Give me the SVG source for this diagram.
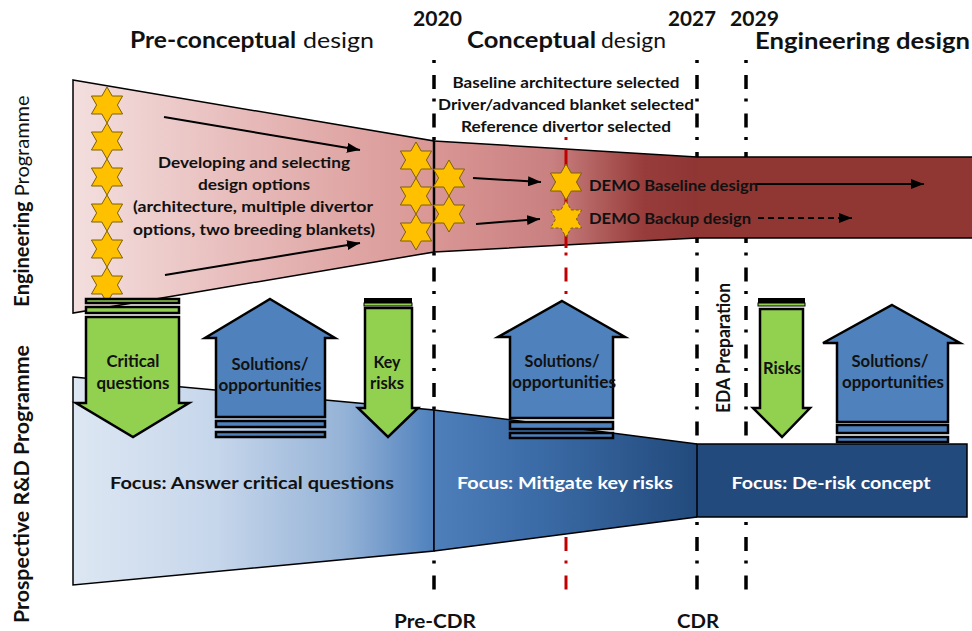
<svg xmlns="http://www.w3.org/2000/svg" width="972" height="631" viewBox="0 0 972 631">
<defs>
<style>
text{font-family:Lato,"Liberation Sans",sans-serif;fill:#111;}
.b{font-weight:700;}
.n{font-weight:400;}
.w{fill:#ffffff;}
.dd{fill:none;stroke:#000;stroke-width:3.5;stroke-dasharray:3 12 14 9.5;}
.ddr{fill:none;stroke:#c00000;stroke-width:3;stroke-dasharray:3 12 14 9.5;}
.edge{fill:none;stroke:#000;stroke-width:1.5;}
.star{fill:#ffc000;stroke:#7f6000;stroke-width:1;}
.green{fill:#92d050;stroke:#000;stroke-width:2.5;stroke-linejoin:miter;}
.blue{fill:#4f81bd;stroke:#000;stroke-width:2.5;stroke-linejoin:miter;}
.con{fill:none;stroke:#000;stroke-width:2;}
</style>
<linearGradient id="redL" gradientUnits="userSpaceOnUse" x1="73" y1="0" x2="434" y2="0">
<stop offset="0" stop-color="#f3dfde"/><stop offset="0.5" stop-color="#e6b9b8"/><stop offset="1" stop-color="#d99694"/>
</linearGradient>
<linearGradient id="redM" gradientUnits="userSpaceOnUse" x1="434" y1="0" x2="697" y2="0">
<stop offset="0" stop-color="#d99694"/><stop offset="0.45" stop-color="#c98080"/><stop offset="0.8" stop-color="#973c3a"/><stop offset="1" stop-color="#8f3634"/>
</linearGradient>
<linearGradient id="blueL" gradientUnits="userSpaceOnUse" x1="73" y1="0" x2="434" y2="0">
<stop offset="0" stop-color="#dde7f3"/><stop offset="0.4" stop-color="#c6d6eb"/><stop offset="0.75" stop-color="#95b3d7"/><stop offset="1" stop-color="#4f81bd"/>
</linearGradient>
<linearGradient id="blueM" gradientUnits="userSpaceOnUse" x1="434" y1="0" x2="697" y2="0">
<stop offset="0" stop-color="#4f7fbb"/><stop offset="0.4" stop-color="#3b6ba6"/><stop offset="1" stop-color="#224a7c"/>
</linearGradient>
<path id="hex" d="M0,-18 L5.196,-9 L15.588,-9 L10.392,0 L15.588,9 L5.196,9 L0,18 L-5.196,9 L-15.588,9 L-10.392,0 L-15.588,-9 L-5.196,-9 Z"/>
<marker id="ah" markerUnits="userSpaceOnUse" markerWidth="13" markerHeight="10" refX="13" refY="5" orient="auto">
<path d="M0,0 L13,5 L0,10 Z" fill="#000"/>
</marker>
</defs>

<rect x="0" y="0" width="972" height="631" fill="#ffffff"/>

<g id="timeline-lines">
<line class="dd" x1="434" y1="60" x2="434" y2="592"/>
<line class="dd" x1="697" y1="60" x2="697" y2="592"/>
<line class="dd" x1="746" y1="60" x2="746" y2="592"/>
<line class="ddr" x1="566" y1="137" x2="566" y2="592"/>
</g>

<g id="engineering-band">
<polygon points="73,80 434,141 434,252 73,313" fill="url(#redL)" stroke="#000" stroke-width="1.5"/>
<polygon points="434,141 697,157 697,238 434,252" fill="url(#redM)"/>
<rect x="697" y="157" width="275" height="81" fill="#903734"/>
<path class="edge" d="M434,141 L697,157 L972,157 M434,252 L697,238 L972,238"/>
<line x1="434" y1="141" x2="434" y2="252" stroke="#000" stroke-width="2.5"/>
<line x1="566" y1="150" x2="566" y2="248" stroke="#c00000" stroke-width="3"/>
</g>

<g id="rd-band">
<polygon points="73,377 434,410 434,551 73,585" fill="url(#blueL)" stroke="#000" stroke-width="1.5"/>
<polygon points="434,410 697,444 697,517 434,551" fill="url(#blueM)"/>
<path class="edge" d="M434,410 L697,444 M434,551 L697,517"/>
<rect x="697" y="444" width="270" height="73" fill="#234a7c" stroke="#000" stroke-width="1.5"/>
<line x1="434" y1="410" x2="434" y2="551" stroke="#000" stroke-width="1.5"/>
</g>

<g id="stars-options">
<use href="#hex" class="star" x="107" y="105"/>
<use href="#hex" class="star" x="107" y="141"/>
<use href="#hex" class="star" x="107" y="177"/>
<use href="#hex" class="star" x="107" y="213"/>
<use href="#hex" class="star" x="107" y="249"/>
<use href="#hex" class="star" x="107" y="285"/>
</g>
<g id="stars-selected">
<use href="#hex" class="star" x="416" y="160"/>
<use href="#hex" class="star" x="416" y="196"/>
<use href="#hex" class="star" x="416" y="232"/>
<use href="#hex" class="star" x="449" y="178"/>
<use href="#hex" class="star" x="449" y="214"/>
</g>
<g id="demo-baseline-star">
<use href="#hex" class="star" x="566" y="182"/>
</g>
<g id="demo-backup-star">
<use href="#hex" class="star" x="566" y="219" stroke-dasharray="3 2"/>
</g>

<g id="connectors">
<line class="con" x1="164" y1="117" x2="360" y2="150" marker-end="url(#ah)"/>
<line class="con" x1="165" y1="275" x2="360" y2="243" marker-end="url(#ah)"/>
<line class="con" x1="473" y1="178" x2="541" y2="182" marker-end="url(#ah)"/>
<line class="con" x1="476" y1="224" x2="540" y2="219" marker-end="url(#ah)"/>
<line class="con" x1="756" y1="184" x2="924" y2="184" marker-end="url(#ah)"/>
<line class="con" x1="758" y1="218" x2="852" y2="218" stroke-dasharray="6 4" marker-end="url(#ah)"/>
</g>

<g id="critical-questions">
<rect class="green" x="86" y="299" width="93" height="4"/>
<rect class="green" x="86" y="307" width="93" height="6"/>
<path class="green" d="M86,317 L179,317 L179,403 L189,403 L133,437 L76,403 L86,403 Z"/>
<text class="b" font-size="17" text-anchor="middle" x="133" y="367" textLength="53" lengthAdjust="spacingAndGlyphs">Critical</text>
<text class="b" font-size="17" text-anchor="middle" x="133" y="389" textLength="73" lengthAdjust="spacingAndGlyphs">questions</text>
</g>

<g id="solutions-1">
<path class="blue" d="M270,299 L335,338 L325,338 L325,417 L216,417 L216,338 L205,338 Z"/>
<rect class="blue" x="216" y="421" width="109" height="6"/>
<rect class="blue" x="216" y="432" width="109" height="5"/>
<text class="b" font-size="17" text-anchor="middle" x="270" y="370" textLength="77" lengthAdjust="spacingAndGlyphs">Solutions/</text>
<text class="b" font-size="17" text-anchor="middle" x="270" y="391" textLength="103" lengthAdjust="spacingAndGlyphs">opportunities</text>
</g>

<g id="key-risks">
<rect x="364" y="298" width="48" height="5" fill="#000"/>
<rect x="364" y="303" width="48" height="3" fill="#92d050" stroke="#000" stroke-width="1"/>
<path class="green" d="M365,308 L412,308 L412,408 L418,408 L388,437 L358,408 L365,408 Z"/>
<text class="b" font-size="17" text-anchor="middle" x="387" y="368" textLength="27" lengthAdjust="spacingAndGlyphs">Key</text>
<text class="b" font-size="17" text-anchor="middle" x="387" y="389" textLength="34" lengthAdjust="spacingAndGlyphs">risks</text>
</g>

<g id="solutions-2">
<path class="blue" d="M562,301 L625,337 L613,337 L613,418 L510,418 L510,337 L498,337 Z"/>
<rect class="blue" x="510" y="422" width="103" height="7"/>
<rect class="blue" x="510" y="433" width="103" height="5"/>
<text class="b" font-size="17" text-anchor="middle" x="562" y="367" textLength="75" lengthAdjust="spacingAndGlyphs">Solutions/</text>
<text class="b" font-size="17" text-anchor="middle" x="564" y="388" textLength="104" lengthAdjust="spacingAndGlyphs">opportunities</text>
</g>

<g id="risks">
<rect x="758" y="298" width="47" height="5" fill="#000"/>
<rect x="758" y="303" width="47" height="3" fill="#92d050" stroke="#000" stroke-width="1"/>
<path class="green" d="M760,309 L803,309 L803,408 L810,408 L782,437 L753,408 L760,408 Z"/>
<text class="b" font-size="17" text-anchor="middle" x="782" y="374" textLength="38" lengthAdjust="spacingAndGlyphs">Risks</text>
</g>

<g id="solutions-3">
<path class="blue" d="M892,305 L960,343 L948,343 L948,422 L837,422 L837,343 L823,343 Z"/>
<rect class="blue" x="837" y="425" width="111" height="8"/>
<rect class="blue" x="837" y="437" width="111" height="5"/>
<text class="b" font-size="17" text-anchor="middle" x="890" y="367" textLength="77" lengthAdjust="spacingAndGlyphs">Solutions/</text>
<text class="b" font-size="17" text-anchor="middle" x="893" y="388" textLength="102" lengthAdjust="spacingAndGlyphs">opportunities</text>
</g>

<g id="phase-titles">
<text class="b" font-size="23" x="130" y="48" textLength="166" lengthAdjust="spacingAndGlyphs">Pre-conceptual</text>
<text class="n" font-size="21" x="303" y="48" textLength="71" lengthAdjust="spacingAndGlyphs">design</text>
<text class="b" font-size="23" x="467" y="48" textLength="129" lengthAdjust="spacingAndGlyphs">Conceptual</text>
<text class="n" font-size="21" x="601" y="48" textLength="65" lengthAdjust="spacingAndGlyphs">design</text>
<text class="b" font-size="22" x="755" y="49" textLength="215" lengthAdjust="spacingAndGlyphs">Engineering design</text>
<text class="b" font-size="20" x="413" y="26" textLength="49" lengthAdjust="spacingAndGlyphs">2020</text>
<text class="b" font-size="20" x="668" y="26" textLength="48" lengthAdjust="spacingAndGlyphs">2027</text>
<text class="b" font-size="20" x="730" y="26" textLength="49" lengthAdjust="spacingAndGlyphs">2029</text>
</g>

<g id="milestones-text">
<text class="b" font-size="15" text-anchor="middle" x="566" y="88" textLength="227" lengthAdjust="spacingAndGlyphs">Baseline architecture selected</text>
<text class="b" font-size="15" text-anchor="middle" x="566" y="110" textLength="256" lengthAdjust="spacingAndGlyphs">Driver/advanced blanket selected</text>
<text class="b" font-size="15" text-anchor="middle" x="566" y="132" textLength="210" lengthAdjust="spacingAndGlyphs">Reference divertor selected</text>
</g>

<g id="design-options-text">
<text class="b" font-size="16" text-anchor="middle" x="254" y="168" textLength="192" lengthAdjust="spacingAndGlyphs">Developing and selecting</text>
<text class="b" font-size="16" text-anchor="middle" x="254" y="190" textLength="112" lengthAdjust="spacingAndGlyphs">design options</text>
<text class="b" font-size="16" text-anchor="middle" x="253" y="212" textLength="240" lengthAdjust="spacingAndGlyphs">(architecture, multiple divertor</text>
<text class="b" font-size="16" text-anchor="middle" x="254" y="235" textLength="242" lengthAdjust="spacingAndGlyphs">options, two breeding blankets)</text>
</g>

<g id="demo-labels">
<text class="b" font-size="16" x="589" y="191" textLength="169" lengthAdjust="spacingAndGlyphs">DEMO Baseline design</text>
<text class="b" font-size="16" x="589" y="224" textLength="162" lengthAdjust="spacingAndGlyphs">DEMO Backup design</text>
</g>

<g id="focus-labels">
<text class="b" font-size="17" text-anchor="middle" x="252" y="489" textLength="284" lengthAdjust="spacingAndGlyphs">Focus: Answer critical questions</text>
<text class="b w" font-size="17" text-anchor="middle" x="565" y="489" textLength="216" lengthAdjust="spacingAndGlyphs">Focus: Mitigate key risks</text>
<text class="b w" font-size="17" text-anchor="middle" x="831" y="489" textLength="199" lengthAdjust="spacingAndGlyphs">Focus: De-risk concept</text>
</g>

<g id="review-labels">
<text class="b" font-size="18" text-anchor="middle" x="435" y="628" textLength="82" lengthAdjust="spacingAndGlyphs">Pre-CDR</text>
<text class="b" font-size="18" text-anchor="middle" x="698" y="628" textLength="42" lengthAdjust="spacingAndGlyphs">CDR</text>
<text class="b" font-size="18" text-anchor="middle" transform="translate(730,348) rotate(-90)" x="0" y="0" textLength="130" lengthAdjust="spacingAndGlyphs">EDA Preparation</text>
</g>

<g id="programme-labels">
<text font-size="20" text-anchor="middle" transform="translate(29,201) rotate(-90)" x="0" y="0"><tspan class="b">Engineering</tspan><tspan class="n"> Programme</tspan></text>
<text class="b" font-size="20" text-anchor="middle" transform="translate(29,484) rotate(-90)" x="0" y="0" textLength="278" lengthAdjust="spacingAndGlyphs">Prospective R&amp;D Programme</text>
</g>
</svg>
